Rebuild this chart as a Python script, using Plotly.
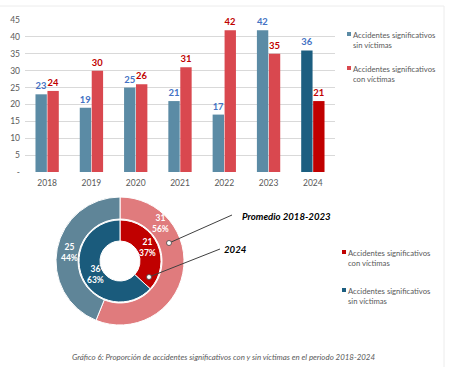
import plotly.graph_objects as go

# ---------------- data ----------------
years = ["2018", "2019", "2020", "2021", "2022", "2023", "2024"]
sin_victimas = [23, 19, 25, 21, 17, 42, 36]
con_victimas = [24, 30, 26, 31, 42, 35, 21]
y_tickvals = [0, 5, 10, 15, 20, 25, 30, 35, 40, 45]
y_ticktext = ["-", "5", "10", "15", "20", "25", "30", "35", "40", "45"]
lbl_sin = "Accidentes significativos<br>sin víctimas"
lbl_con = "Accidentes significativos<br>con víctimas"
caption = "Gráfico 6: Proporción de accidentes significativos con y sin víctimas en el periodo 2018-2024"

# averages 2018-2023 and values 2024
avg_con = sum(con_victimas[:6]) / 6
avg_sin = sum(sin_victimas[:6]) / 6
last_con = con_victimas[-1]
last_sin = sin_victimas[-1]

W, H = 450, 367
FONT = "Lato"
GRAY = "#595959"


def px(x):
    return x / W


def py(y):
    return 1 - y / H


def rnd(v):
    return int(v + 0.5)


BLUE_L, BLUE_D = "#5B8BA5", "#1C5E80"
RED_L, RED_D = "#D9484F", "#C00000"

fig = go.Figure()

fig.add_trace(go.Bar(
    x=years, y=sin_victimas, name="sin",
    marker=dict(color=[BLUE_L] * 6 + [BLUE_D], line=dict(width=0)),
    text=[f"<b>{v}</b>" for v in sin_victimas], textposition="outside",
    textfont=dict(color="#4472C4", size=9.5, family=FONT),
    cliponaxis=False, showlegend=False,
))
fig.add_trace(go.Bar(
    x=years, y=con_victimas, name="con",
    marker=dict(color=[RED_L] * 6 + [RED_D], line=dict(width=0)),
    text=[f"<b>{v}</b>" for v in con_victimas], textposition="outside",
    textfont=dict(color="#C00000", size=9.5, family=FONT),
    cliponaxis=False, showlegend=False,
))

# ---------------- donut ----------------
cx, cy = 120, 261
R_out, R_in, R_hole = 64, 41, 20
fig.add_trace(go.Pie(
    values=[avg_con, avg_sin], labels=["con", "sin"],
    sort=False, direction="clockwise", rotation=0,
    hole=(R_in + 1) / R_out,
    marker=dict(colors=["#E07B7D", "#5F8598"], line=dict(color="white", width=1)),
    textinfo="none", hoverinfo="skip", showlegend=False,
    domain=dict(x=[px(cx - R_out), px(cx + R_out)], y=[py(cy + R_out), py(cy - R_out)]),
))
fig.add_trace(go.Pie(
    values=[last_con, last_sin], labels=["con", "sin"],
    sort=False, direction="clockwise", rotation=0,
    hole=R_hole / R_in,
    marker=dict(colors=["#C00000", "#1A5B7C"], line=dict(color="white", width=1)),
    textinfo="none", hoverinfo="skip", showlegend=False,
    domain=dict(x=[px(cx - R_in), px(cx + R_in)], y=[py(cy + R_in), py(cy - R_in)]),
))

annotations = []


def txt(x, y, s, size, color, **kw):
    d = dict(x=px(x), y=py(y), xref="paper", yref="paper", showarrow=False,
             xanchor="center", yanchor="middle",
             text=s, font=dict(color=color, size=size, family=FONT))
    d.update(kw)
    annotations.append(d)


def pie_label(x, y, v, tot):
    txt(x, y, f"<b>{rnd(v)}<br>{rnd(100 * v / tot)}%</b>", 8.5, "white")


pie_label(160, 223.5, avg_con, avg_con + avg_sin)
pie_label(69, 252, avg_sin, avg_con + avg_sin)
pie_label(147, 247.5, last_con, last_con + last_sin)
pie_label(95, 274, last_sin, last_con + last_sin)

# callouts
shapes = []
shapes.append(dict(type="line", xref="paper", yref="paper",
                   x0=px(169), y0=py(243), x1=px(232), y1=py(215),
                   line=dict(color="#404040", width=1)))
shapes.append(dict(type="line", xref="paper", yref="paper",
                   x0=px(149), y0=py(277), x1=px(220), y1=py(249),
                   line=dict(color="#404040", width=1)))
for (dx, dy) in [(169, 243), (149, 277)]:
    shapes.append(dict(type="circle", xref="paper", yref="paper",
                       x0=px(dx - 2.5), y0=py(dy + 2.5), x1=px(dx + 2.5), y1=py(dy - 2.5),
                       fillcolor="white", line=dict(color="#404040", width=0.8)))

txt(240, 217, "<b><i>Promedio 2018-2023</i></b>", 9.6, "black", xanchor="left")
txt(222, 250, "<b><i>2024</i></b>", 9.6, "black", xanchor="left")


# manual legends
def legend_item(x, y, color, label):
    shapes.append(dict(type="rect", xref="paper", yref="paper",
                       x0=px(x), y0=py(y + 2), x1=px(x + 4), y1=py(y - 2),
                       fillcolor=color, line=dict(width=0)))
    txt(x + 4, y - 6, label, 7.7, GRAY, xanchor="left", yanchor="top", align="left")


legend_item(347, 34, BLUE_L, lbl_sin)
legend_item(347, 68, RED_L, lbl_con)
legend_item(342, 252, RED_D, lbl_con)
legend_item(342, 290, BLUE_D, lbl_sin)

# caption
txt(223, 357, "<i>" + caption + "</i>", 7.9, GRAY)

# faint frame
shapes.append(dict(type="line", xref="paper", yref="paper", x0=0, x1=px(444), y0=py(6), y1=py(6),
                   line=dict(color="#ECECEC", width=1)))
shapes.append(dict(type="line", xref="paper", yref="paper", x0=px(444), x1=px(444), y0=0, y1=py(6),
                   line=dict(color="#ECECEC", width=1)))

fig.update_layout(
    width=W, height=H,
    margin=dict(l=0, r=0, t=0, b=0),
    paper_bgcolor="white", plot_bgcolor="white",
    barmode="group", bargap=0.46, bargroupgap=0.05,
    font=dict(family=FONT, color=GRAY),
    xaxis=dict(domain=[px(25), px(335)], showgrid=False, showline=False, ticks="",
               tickfont=dict(size=8.5, color=GRAY, family=FONT), anchor="y", automargin=False,
               ticklabelstandoff=4),
    yaxis=dict(domain=[py(172), py(20)], range=[0, 45], tickvals=y_tickvals, ticktext=y_ticktext,
               showgrid=True, gridcolor="#D9D9D9", gridwidth=1, zeroline=False, showline=False,
               tickfont=dict(size=8.5, color=GRAY, family=FONT), ticks="", ticklabelstandoff=4,
               automargin=False),
    shapes=shapes, annotations=annotations,
)

fig.write_html("out.html", config={"displayModeBar": False},
               post_script="document.body.style.margin='0';document.body.style.overflow='hidden';")
